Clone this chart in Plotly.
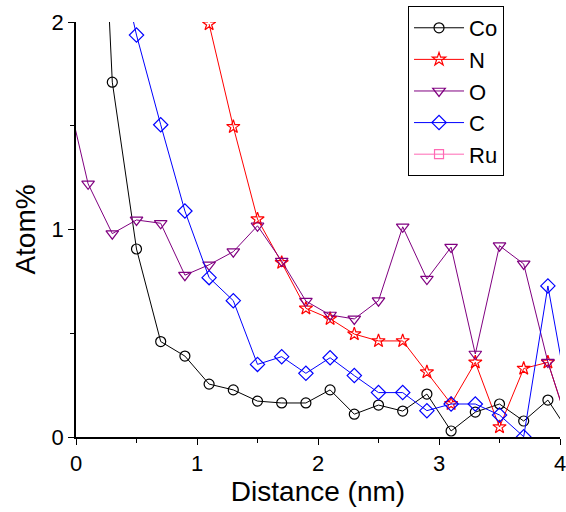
import plotly.graph_objects as go

distance = [-0.1, 0.1, 0.3, 0.5, 0.7, 0.9, 1.1, 1.3, 1.5, 1.7, 1.9, 2.1,
            2.3, 2.5, 2.7, 2.9, 3.1, 3.3, 3.5, 3.7, 3.9, 4.1]

co = [None, 4.2, 1.71, 0.906, 0.46, 0.39, 0.255, 0.227, 0.173, 0.164, 0.164,
      0.227, 0.11, 0.154, 0.125, 0.207, 0.029, 0.12, 0.159, 0.077, 0.178, 0.0]
n = [None, None, None, None, None, None, 1.99, 1.495, 1.05, 0.84, 0.62,
     0.57, 0.496, 0.463, 0.463, 0.313, 0.16, 0.36, 0.048, 0.33, 0.36, 0.0]
o = [1.72, 1.22, 0.98, 1.046, 1.03, 0.78, 0.83, 0.893, 1.018, 0.848, 0.655,
     0.588, 0.569, 0.657, 1.013, 0.761, 0.915, 0.40, 0.922, 0.834, 0.361, 0.0]
c = [None, None, 2.45, 1.937, 1.505, 1.089, 0.768, 0.657, 0.35, 0.387, 0.307,
     0.382, 0.296, 0.214, 0.214, 0.127, 0.159, 0.159, 0.106, 0.0015, 0.728, 0.08]
ru = [None] * len(distance)

series = [
    ("Co", co, "#000000", "circle-open"),
    ("N", n, "#FF0000", "star-open"),
    ("O", o, "#800080", "triangle-down-open"),
    ("C", c, "#0000FF", "diamond-open"),
    ("Ru", ru, "#FF69B4", "square-open"),
]
sizes = {"circle-open": 10, "star-open": 10, "triangle-down-open": 11,
         "diamond-open": 11, "square-open": 9}

fig = go.Figure()
for name, vals, col, sym in series:
    fig.add_trace(go.Scatter(
        x=distance, y=vals, name=name, mode="lines+markers",
        line=dict(color=col, width=1),
        marker=dict(symbol=sym, size=sizes[sym], color=col,
                    line=dict(color=col, width=1.2)),
        connectgaps=False,
    ))

font = "Liberation Sans, Arial, sans-serif"
fig.update_layout(
    width=566, height=512,
    margin=dict(l=76, r=6, t=22, b=75, autoexpand=False),
    paper_bgcolor="white", plot_bgcolor="white",
    font=dict(family=font, size=22, color="black"),
    showlegend=True,
    legend=dict(
        x=0.686, y=1.0386, xanchor="left", yanchor="top",
        bgcolor="white", bordercolor="black", borderwidth=1,
        font=dict(size=22, family=font), itemwidth=50,
        entrywidth=85, entrywidthmode="pixels",
        tracegroupgap=0,
    ),
    xaxis=dict(
        range=[0, 4], tick0=0, dtick=1, ticks="outside", ticklen=6,
        tickwidth=1, tickcolor="black", showline=True, linecolor="black",
        linewidth=1.5, showgrid=False, zeroline=False, mirror=False,
        automargin=False, ticklabeloverflow="allow",
        minor=dict(dtick=0.5, ticks="outside", ticklen=4, tickcolor="black"),
        title=dict(text="Distance (nm)", font=dict(size=28), standoff=6),
        tickfont=dict(size=22),
    ),
    yaxis=dict(
        range=[0, 2], tick0=0, dtick=1, ticks="outside", ticklen=6,
        tickwidth=1, tickcolor="black", showline=True, linecolor="black",
        linewidth=1.5, showgrid=False, zeroline=False, mirror=False,
        automargin=False, ticklabeloverflow="allow",
        minor=dict(dtick=0.5, ticks="outside", ticklen=4, tickcolor="black"),
        title=dict(text="Atom%", font=dict(size=28), standoff=8),
        tickfont=dict(size=22),
    ),
)

fig.write_html(
    "out.html",
    config={"displayModeBar": False},
    post_script="document.body.style.margin='0px';document.body.style.overflow='hidden';",
)
